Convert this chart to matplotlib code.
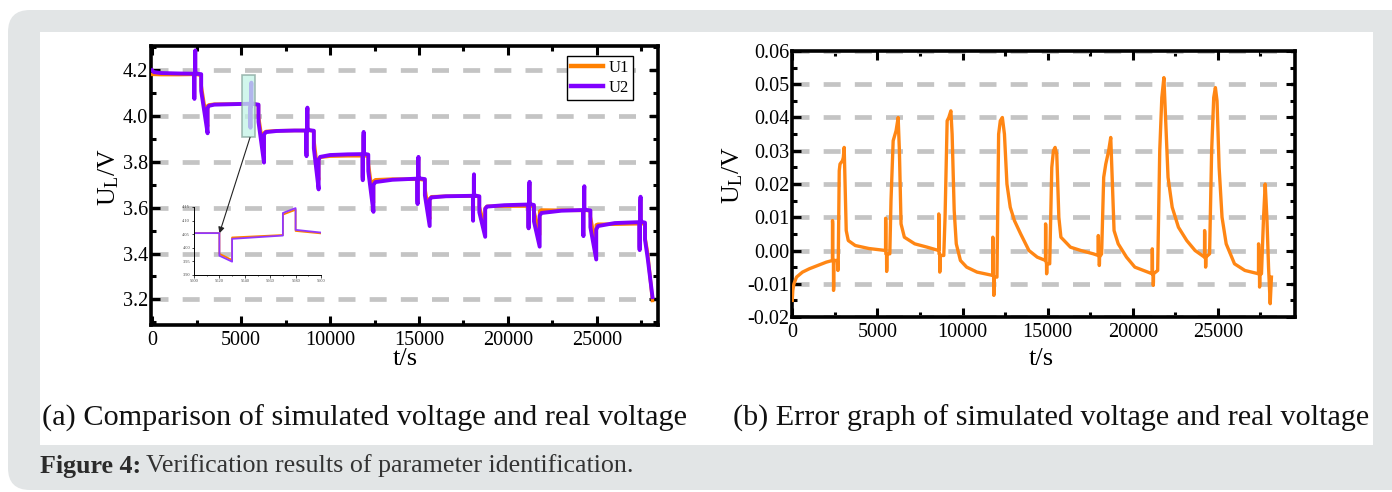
import numpy as np
import matplotlib
matplotlib.use('Agg')
import matplotlib.pyplot as plt
from matplotlib.patches import FancyBboxPatch, Rectangle
from matplotlib.ticker import MultipleLocator, FormatStrFormatter
from matplotlib.transforms import IdentityTransform

plt.rcParams['font.family'] = ['Liberation Serif', 'DejaVu Serif']
plt.rcParams['mathtext.fontset'] = 'custom'
plt.rcParams['mathtext.rm'] = 'Liberation Serif'
plt.rcParams['mathtext.it'] = 'Liberation Serif:italic'
plt.rcParams['axes.unicode_minus'] = False

# ---- data ----
# (a) terminal voltage, U1 = simulated, U2 = real, one row per point
t_sim = [0, 100, 500, 1500, 2370, 2370, 2380, 2380, 2420, 2420, 2430, 2430, 2500,
         2760, 2760, 3120, 3120, 3200, 3500, 4500, 5520,
         5520, 5530, 5530, 5570, 5570, 5580, 5580, 5600, 5700, 5980, 5980, 6290,
         6290, 6400, 7000, 8000, 8670,
         8670, 8680, 8680, 8720, 8720, 8730, 8730, 8800, 9090, 9090, 9360, 9360,
         9450, 10000, 11000, 11830,
         11830, 11840, 11840, 11880, 11880, 11890, 11890, 11950, 12150, 12150,
         12440, 12440, 12550, 13500, 14910,
         14910, 14920, 14920, 14960, 14960, 14970, 14970, 15030, 15330, 15330,
         15600, 15600, 15700, 16500, 18030,
         18030, 18040, 18040, 18080, 18080, 18090, 18090, 18150, 18390, 18390,
         18720, 18720, 18820, 19800, 21150,
         21150, 21160, 21160, 21200, 21200, 21210, 21210, 21270, 21460, 21460,
         21780, 21780, 21880, 23000, 24230,
         24230, 24240, 24240, 24280, 24280, 24290, 24290, 24350, 24630, 24630,
         24960, 24960, 25060, 26000, 27390,
         27390, 27400, 27400, 27440, 27440, 27450, 27450, 27510, 27700, 27700,
         27850, 28120]

u2 = [4.200, 4.192, 4.188, 4.186, 4.185, 4.080, 4.075, 4.180, 4.183, 4.270, 4.287, 4.190, 4.185,
      4.183, 4.110, 3.925, 4.035, 4.045, 4.050, 4.052, 4.054,
      3.971, 3.949, 4.033, 4.045, 4.128, 4.146, 4.066, 4.056, 4.053, 4.050, 3.975, 3.797,
      3.920, 3.930, 3.935, 3.937, 3.937,
      3.840, 3.825, 3.930, 3.936, 4.020, 4.037, 3.945, 3.939, 3.936, 3.860, 3.680, 3.810,
      3.822, 3.830, 3.833, 3.834,
      3.735, 3.720, 3.828, 3.833, 3.915, 3.931, 3.840, 3.835, 3.832, 3.760,
      3.582, 3.700, 3.712, 3.722, 3.727,
      3.630, 3.616, 3.720, 3.726, 3.805, 3.822, 3.735, 3.728, 3.725, 3.655,
      3.520, 3.635, 3.645, 3.650, 3.652,
      3.555, 3.543, 3.645, 3.650, 3.730, 3.746, 3.660, 3.653, 3.650, 3.580,
      3.473, 3.595, 3.605, 3.611, 3.614,
      3.520, 3.510, 3.608, 3.612, 3.695, 3.713, 3.622, 3.615, 3.612, 3.540,
      3.430, 3.565, 3.577, 3.587, 3.590,
      3.490, 3.476, 3.585, 3.589, 3.675, 3.694, 3.600, 3.591, 3.588, 3.515,
      3.374, 3.505, 3.520, 3.533, 3.537,
      3.430, 3.415, 3.530, 3.535, 3.630, 3.648, 3.545, 3.538, 3.535, 3.460,
      3.380, 3.210]

u1 = [4.182, 4.182, 4.181, 4.181, 4.182, 4.089, 4.083, 4.177, 4.180, 4.258, 4.275, 4.186, 4.182,
      4.178, 4.134, 3.955, 4.045, 4.049, 4.052, 4.0525, 4.054,
      3.978, 3.955, 4.038, 4.047, 4.122, 4.140, 4.062, 4.053, 4.052, 4.049, 4.000, 3.835,
      3.926, 3.933, 3.936, 3.937, 3.937,
      3.851, 3.835, 3.928, 3.934, 4.014, 4.031, 3.942, 3.938, 3.935, 3.898, 3.722, 3.810,
      3.820, 3.825, 3.8265, 3.8265,
      3.739, 3.724, 3.820, 3.825, 3.902, 3.918, 3.832, 3.827, 3.824, 3.796,
      3.622, 3.715, 3.722, 3.725, 3.724,
      3.638, 3.624, 3.716, 3.722, 3.798, 3.815, 3.731, 3.724, 3.721, 3.685,
      3.551, 3.640, 3.648, 3.650, 3.6505,
      3.5595, 3.547, 3.643, 3.648, 3.7255, 3.7415, 3.658, 3.651, 3.648, 3.605,
      3.507, 3.598, 3.606, 3.607, 3.607,
      3.5205, 3.5105, 3.601, 3.605, 3.685, 3.703, 3.615, 3.608, 3.605, 3.585,
      3.482, 3.585, 3.590, 3.589, 3.588,
      3.496, 3.482, 3.583, 3.587, 3.672, 3.691, 3.598, 3.589, 3.586, 3.561,
      3.423, 3.525, 3.528, 3.528, 3.530,
      3.432, 3.417, 3.523, 3.528, 3.619, 3.637, 3.538, 3.531, 3.528, 3.470,
      3.400, 3.195]

# (b) error between simulated and real voltage
t_err = [0, 30, 100, 250, 600, 1000, 1500, 2000, 2360, 2365, 2375, 2380, 2420, 2425, 2435, 2440,
         2650, 2683, 2700, 2760, 2805, 2950, 3000, 3050, 3100, 3170, 3290, 3700, 4500,
         5480, 5485, 5495, 5500, 5540, 5545, 5555, 5560, 5730, 5800, 5927, 6098, 6220, 6293,
         6390, 6585, 7195, 7927,
         8600, 8605, 8615, 8620, 8660, 8665, 8675, 8680, 8900, 8975, 9098, 9195, 9317, 9390,
         9512, 9634, 9878, 10244, 10854,
         11775, 11780, 11790, 11795, 11835, 11840, 11850, 11855, 12024, 12122, 12220, 12341,
         12463, 12610, 12805, 13049, 13415, 13902, 14390,
         14875, 14880, 14890, 14895, 14935, 14940, 14950, 14955, 15122, 15244, 15341, 15439,
         15537, 15659, 15780, 16341, 16951, 17683,
         17970, 17975, 17985, 17990, 18030, 18035, 18045, 18050, 18171, 18293, 18415, 18585,
         18707, 18805, 18902, 19146, 19634, 20122,
         21140, 21145, 21155, 21160, 21200, 21205, 21215, 21220, 21463, 21585, 21707, 21829,
         21927, 22073, 22317, 22683, 23171, 23659,
         24215, 24220, 24230, 24235, 24275, 24280, 24290, 24295, 24512, 24634, 24756, 24854,
         24951, 25073, 25244, 25488, 25976, 26585,
         27385, 27390, 27400, 27405, 27445, 27450, 27460, 27465, 27561, 27683, 27780, 27878,
         27976, 28073, 28146]

err = [-0.015, -0.012, -0.010, -0.008, -0.0065, -0.0055, -0.0045, -0.0035, -0.003, 0.009, 0.008,
       -0.003, -0.003, -0.012, -0.011, -0.003,
       -0.003, -0.006, -0.004, 0.024, 0.026, 0.027, 0.028, 0.031, 0.020, 0.006, 0.003, 0.0015, 0.0006,
       0.0, 0.0097, 0.008, -0.001, -0.001, -0.0063, -0.005, -0.001, -0.001, 0.015, 0.033, 0.036,
       0.040, 0.030, 0.008, 0.004, 0.002, 0.001,
       0.0, 0.011, 0.009, -0.001, -0.001, -0.0065, -0.005, -0.0015, -0.0015, 0.010, 0.039, 0.040,
       0.042, 0.035, 0.012, 0.002, -0.003, -0.005, -0.0065,
       -0.0075, 0.004, 0.003, -0.007, -0.008, -0.0135, -0.012, -0.008, -0.008, 0.035, 0.039, 0.040,
       0.035, 0.020, 0.013, 0.009, 0.005, 0.0, -0.002,
       -0.003, 0.008, 0.007, -0.003, -0.004, -0.007, -0.0065, -0.004, -0.004, 0.025, 0.030, 0.031,
       0.029, 0.010, 0.004, 0.001, 0.0, -0.001,
       -0.0015, 0.0045, 0.004, -0.0015, -0.002, -0.0045, -0.004, -0.002, -0.001, 0.022, 0.026, 0.030,
       0.034, 0.020, 0.006, 0.002, -0.002, -0.005,
       -0.007, 0.0005, 0.0, -0.007, -0.007, -0.0105, -0.0095, -0.007, -0.006, 0.030, 0.046, 0.052,
       0.040, 0.022, 0.013, 0.007, 0.003, 0.0,
       -0.002, 0.006, 0.005, -0.002, -0.002, -0.005, -0.004, -0.002, -0.001, 0.030, 0.046, 0.049,
       0.045, 0.025, 0.010, 0.002, -0.004, -0.006,
       -0.007, 0.002, 0.001, -0.007, -0.007, -0.011, -0.010, -0.007, -0.007, 0.010, 0.020, 0.010,
       -0.005, -0.016, -0.008]

W, H = 1392, 492
fig = plt.figure(figsize=(W / 100, H / 100), dpi=100)

# grey card with white panel behind the two plots
card = FancyBboxPatch((8, 2), 1440, 480, boxstyle='round,pad=0,rounding_size=22',
                      transform=IdentityTransform(), facecolor='#e2e5e6', edgecolor='none', zorder=-10)
fig.add_artist(card)
panel = Rectangle((40, 47), 1333, 413, transform=IdentityTransform(),
                  facecolor='white', edgecolor='none', zorder=-9)
fig.add_artist(panel)

orange = '#ff8000'
purple = '#8000ff'
grid_kw = dict(color='#c4c4c4', lw=3.4, linestyle=(0, (3.6, 3)))


def style_axes(ax):
    for s in ax.spines.values():
        s.set_linewidth(2.6)
    ax.tick_params(which='both', direction='in', top=True, right=True, width=2.2,
                   labelsize=14.5, pad=4)
    ax.tick_params(which='major', length=6.5)
    ax.tick_params(which='minor', length=3.8)
    ax.tick_params(axis='y', pad=2)
    ax.set_axisbelow(True)
    ax.yaxis.grid(True, which='major', **grid_kw)


# ---- (a) ----
ax1 = fig.add_axes([151 / W, 167 / H, 507 / W, 279 / H])
ax1.plot(t_sim, u1, color=orange, lw=2.5, label='U1', zorder=3)
ax1.plot(t_sim, u2, color=purple, lw=2.8, label='U2', zorder=4)
ax1.set_xlim(-60, 28430)
ax1.set_ylim(3.088, 4.306)
ax1.xaxis.set_major_locator(MultipleLocator(5000))
ax1.xaxis.set_minor_locator(MultipleLocator(2500))
ax1.yaxis.set_major_locator(MultipleLocator(0.2))
ax1.yaxis.set_minor_locator(MultipleLocator(0.1))
ax1.yaxis.set_major_formatter(FormatStrFormatter('%.1f'))
style_axes(ax1)
ax1.set_xlabel('t/s', fontsize=19)
ax1.set_ylabel(r'$\mathrm{U_L}$/V', fontsize=18.5)
ax1.xaxis.set_label_coords(0.502, -0.083)
ax1.yaxis.set_label_coords(-0.060, 0.53)
leg = ax1.legend(loc='upper right', bbox_to_anchor=(0.951, 0.964), borderaxespad=0,
                 fancybox=False, edgecolor='black', framealpha=1, fontsize=12,
                 handlelength=1.9, handletextpad=0.35, borderpad=0.25, labelspacing=0.2)
leg.get_frame().set_linewidth(1.0)
for h in leg.get_lines():
    h.set_linewidth(3.2)

# highlighted window and zoom arrow
ax1.add_patch(Rectangle((5080, 3.907), 710, 0.273, facecolor='#c2f3e6', edgecolor='#86a69d',
                        lw=1.2, alpha=0.75, zorder=5))

# inset zoom of the 5500-5600 s pulse
axins = fig.add_axes([194 / W, 217 / H, 127 / W, 68 / H])
axins.patch.set_alpha(0)
axins.plot(t_sim, u1, color=orange, lw=1.3)
axins.plot(t_sim, u2, color='#9236ff', lw=1.3)
axins.set_xlim(5500, 5600)
axins.set_ylim(3.90, 4.15)
axins.xaxis.set_major_locator(MultipleLocator(20))
axins.xaxis.set_minor_locator(MultipleLocator(10))
axins.yaxis.set_major_locator(MultipleLocator(0.05))
axins.yaxis.set_major_formatter(FormatStrFormatter('%.2f'))
axins.spines['top'].set_visible(False)
axins.spines['right'].set_visible(False)
for s in ('left', 'bottom'):
    axins.spines[s].set_linewidth(0.7)
axins.tick_params(which='both', direction='out', width=0.5, labelsize=3.2, pad=1,
                  labelcolor='#444444')
axins.tick_params(which='major', length=1.8)
axins.tick_params(which='minor', length=1.0)

ax1.annotate('', xy=(5520, 4.053), xycoords=axins.transData,
             xytext=(5505, 3.907), textcoords=ax1.transData, annotation_clip=False,
             arrowprops=dict(arrowstyle='-|>', color='#222222', lw=0.8, mutation_scale=9,
                             shrinkA=0, shrinkB=0), zorder=6)

# ---- (b) ----
ax2 = fig.add_axes([792 / W, 175 / H, 503 / W, 266 / H])
ax2.plot(t_err, err, color='#ff8614', lw=2.4, zorder=3)
ax2.set_xlim(-15, 29530)
ax2.set_ylim(-0.02, 0.06)
ax2.xaxis.set_major_locator(MultipleLocator(5000))
ax2.xaxis.set_minor_locator(MultipleLocator(2500))
ax2.yaxis.set_major_locator(MultipleLocator(0.01))
ax2.yaxis.set_minor_locator(MultipleLocator(0.005))
ax2.yaxis.set_major_formatter(FormatStrFormatter('%.2f'))
style_axes(ax2)
ax2.set_xlabel('t/s', fontsize=19)
ax2.set_ylabel(r'$\mathrm{U_L}$/V', fontsize=18.5)
ax2.xaxis.set_label_coords(0.496, -0.118)
ax2.yaxis.set_label_coords(-0.094, 0.534)

# ---- captions ----
fig.text(42 / W, (H - 418) / H, '(a) Comparison of simulated voltage and real voltage',
         fontsize=21.8, va='center', ha='left', color='#111111')
fig.text(733 / W, (H - 418) / H, '(b) Error graph of simulated voltage and real voltage',
         fontsize=21.7, va='center', ha='left', color='#111111')
t1 = fig.text(40 / W, (H - 466) / H, 'Figure 4:', fontsize=18.7, weight='bold',
              va='center', ha='left', color='#2b2b2b')
renderer = fig.canvas.get_renderer()
bb = t1.get_window_extent(renderer)
fig.text((bb.x1 + 5) / W, (H - 466) / H, 'Verification results of parameter identification.',
         fontsize=18.7, va='center', ha='left', color='#333333')

fig.savefig('out.png', dpi=100)
